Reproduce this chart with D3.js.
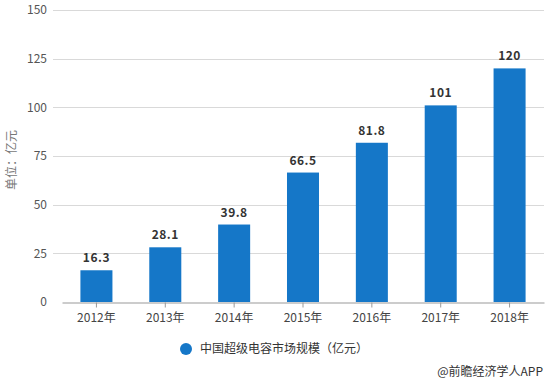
<!DOCTYPE html>
<html>
<head>
<meta charset="utf-8" />
<script src="https://cdn.jsdelivr.net/npm/d3@7"></script>
<style>
  body { margin: 0; background: #fff; }
  text { font-family: "Microsoft YaHei", "Noto Sans CJK SC", sans-serif; }
</style>
</head>
<body>
<div id="chart"></div>
<script>
// chart data
var years = ['2012年', '2013年', '2014年', '2015年', '2016年', '2017年', '2018年'];
var values = [16.3, 28.1, 39.8, 66.5, 81.8, 101, 120];
var yTicks = [0, 25, 50, 75, 100, 125, 150];
var seriesName = '中国超级电容市场规模（亿元）';

var width = 550, height = 385;

var svg = d3.select('#chart')
    .append('svg')
    .attr('width', width)
    .attr('height', height);

var x = d3.scaleBand()
    .domain(years)
    .range([62, 544])
    .paddingInner(0.535)
    .paddingOuter(0.2675);

var y = d3.scaleLinear()
    .domain([0, 150])
    .range([302, 10]);

// grid lines
svg.append('g')
    .selectAll('line')
    .data(yTicks.slice(1))
    .enter()
    .append('line')
    .attr('x1', 53)
    .attr('x2', 544)
    .attr('y1', function (d) { return Math.round(y(d)) + 0.5; })
    .attr('y2', function (d) { return Math.round(y(d)) + 0.5; })
    .attr('stroke', '#d9d9d9')
    .attr('stroke-width', 1);

// y tick labels
svg.append('g')
    .selectAll('text')
    .data(yTicks)
    .enter()
    .append('text')
    .attr('x', 47)
    .attr('y', function (d) { return y(d); })
    .attr('dy', '0.35em')
    .attr('text-anchor', 'end')
    .attr('font-size', 12)
    .attr('fill', '#555')
    .text(function (d) { return d; });

// y axis title
svg.append('text')
    .attr('transform', 'translate(12,160) rotate(-90)')
    .attr('text-anchor', 'middle')
    .attr('dy', '0.35em')
    .attr('font-size', 12)
    .attr('fill', '#777')
    .text('单位：亿元');

// bars
svg.append('g')
    .selectAll('rect')
    .data(values)
    .enter()
    .append('rect')
    .attr('x', function (d, i) { return x(years[i]); })
    .attr('y', function (d) { return y(d); })
    .attr('width', x.bandwidth())
    .attr('height', function (d) { return y(0) - y(d); })
    .attr('fill', '#1577c8');

// value labels
svg.append('g')
    .selectAll('text')
    .data(values)
    .enter()
    .append('text')
    .attr('x', function (d, i) { return x(years[i]) + x.bandwidth() / 2; })
    .attr('y', function (d) { return y(d) - 8; })
    .attr('text-anchor', 'middle')
    .attr('font-size', 12)
    .attr('font-weight', 'bold')
    .attr('letter-spacing', 0.5)
    .attr('fill', '#333')
    .text(function (d) { return d; });

// x axis
var xAxis = svg.append('g')
    .attr('transform', 'translate(0,' + (Math.round(y(0)) + 0.5) + ')')
    .call(d3.axisBottom(x).tickSize(5).tickSizeOuter(0));
xAxis.select('.domain').attr('stroke', '#999');
xAxis.selectAll('.tick line').attr('stroke', '#999');
xAxis.selectAll('.tick text')
    .attr('font-size', 12)
    .attr('fill', '#444')
    .attr('dy', '0.95em')
    .style('font-family', '"Microsoft YaHei", "Noto Sans CJK SC", sans-serif');

// legend
var legend = svg.append('g').attr('transform', 'translate(186,349)');
legend.append('circle')
    .attr('r', 6)
    .attr('fill', '#1577c8');
legend.append('text')
    .attr('x', 14)
    .attr('dy', '0.35em')
    .attr('font-size', 12)
    .attr('fill', '#333')
    .text(seriesName);

// source mark
svg.append('text')
    .attr('x', 543)
    .attr('y', 376)
    .attr('text-anchor', 'end')
    .attr('font-size', 12)
    .attr('fill', '#333')
    .text('@前瞻经济学人APP');
</script>
</body>
</html>
